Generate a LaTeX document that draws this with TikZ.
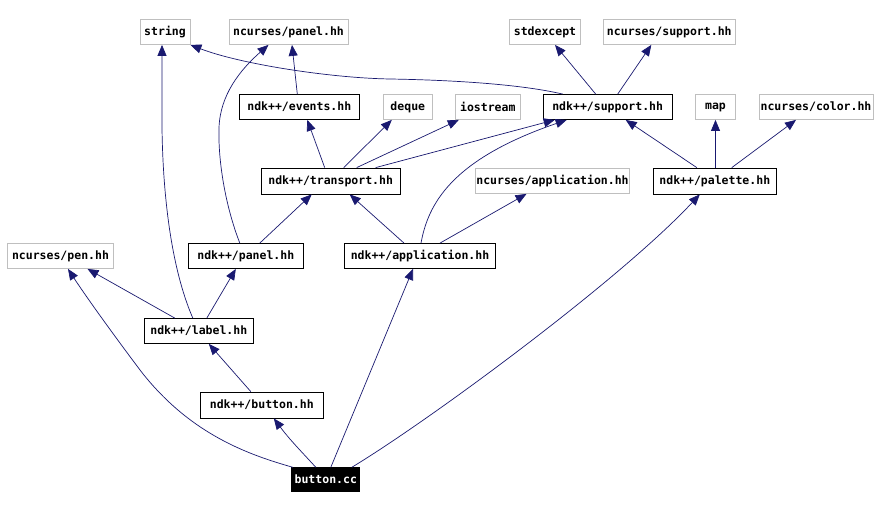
\documentclass[tikz,border=0pt]{standalone}
\usepackage{fontspec}
\setmonofont{DejaVu Sans Mono}
\usetikzlibrary{arrows.meta}
\definecolor{edgeblue}{HTML}{191970}
\definecolor{extgrey}{HTML}{BFBFBF}
\tikzset{
  box/.style={draw=black, line width=0.8pt, fill=white, minimum height=25pt, inner sep=0pt,
    font=\ttfamily\bfseries\fontsize{11.5}{12}\selectfont, text=black},
  ext/.style={box, draw=extgrey},
  cur/.style={box, fill=black, draw=black, text=white, minimum height=24pt},
  edge/.style={draw=edgeblue, line width=0.7pt, -{Triangle[length=11pt,width=9pt]}, fill=none},
}
\begin{document}
\begin{tikzpicture}[x=1pt,y=-1pt]
\path[use as bounding box, fill=white] (0,0) rectangle (880,510);
% row 1
\node[ext, minimum width=50pt]  (string)    at (165,32)   {string};
\node[ext, minimum width=119pt] (cpanel)    at (288.5,32) {ncurses/panel.hh};
\node[ext, minimum width=71pt]  (stdexcept) at (545,32)   {stdexcept};
\node[ext, minimum width=132pt] (csupport)  at (669.3,32) {ncurses/support.hh};
% row 2
\node[box, minimum width=120pt] (events)    at (299.3,107) {ndk++/events.hh};
\node[ext, minimum width=49pt]  (deque)     at (407.8,107) {deque};
\node[ext, minimum width=65pt]  (iostream)  at (487.8,107) {iostream};
\node[box, minimum width=129pt] (support)   at (607.7,107) {ndk++/support.hh};
\node[ext, minimum width=40pt]  (map)       at (715.5,107) {map};
\node[ext, minimum width=114pt] (color)     at (816,107)   {ncurses/color.hh};
% row 3
\node[box, minimum width=139pt, minimum height=26pt] (transport) at (330.7,181) {ndk++/transport.hh};
\node[ext, minimum width=154pt] (capp)      at (552.5,181) {ncurses/application.hh};
\node[box, minimum width=123pt, minimum height=26pt] (palette) at (714.8,181) {ndk++/palette.hh};
% row 4
\node[ext, minimum width=106pt] (pen)       at (60.5,256)  {ncurses/pen.hh};
\node[box, minimum width=115pt] (panel)     at (245.8,256) {ndk++/panel.hh};
\node[box, minimum width=151pt] (app)       at (420,256)   {ndk++/application.hh};
% row 5
\node[box, minimum width=109pt] (label)     at (198.8,331) {ndk++/label.hh};
% row 6
\node[box, minimum width=123pt, minimum height=26pt] (button) at (261.8,405) {ndk++/button.hh};
% row 7
\node[cur, minimum width=68pt]  (cc)        at (325.8,479.7) {button.cc};

% edges
\draw[edge] ([xshift=-2pt]events.north) -- ([xshift=3.5pt]cpanel.south);
\draw[edge] ([xshift=-45pt]support.north) .. controls (520,84) and (450,80) .. (390,79)
            .. controls (330,78) and (240,64) .. (string.south east);
\draw[edge] ([xshift=-12pt]support.north) -- ([xshift=10pt]stdexcept.south);
\draw[edge] ([xshift=10pt]support.north) -- ([xshift=-18pt]csupport.south);
\draw[edge] ([xshift=-6pt]transport.north) -- ([xshift=8pt]events.south);
\draw[edge] ([xshift=13pt]transport.north) -- ([xshift=-16pt]deque.south);
\draw[edge] ([xshift=26pt]transport.north) -- ([xshift=-29pt]iostream.south);
\draw[edge] ([xshift=45pt]transport.north) -- ([xshift=-53pt]support.south);
\draw[edge] ([xshift=-18pt]palette.north) -- ([xshift=18pt]support.south);
\draw[edge] ([xshift=0.7pt]palette.north) -- (map.south);
\draw[edge] ([xshift=17pt]palette.north) -- ([xshift=-20pt]color.south);
\draw[edge] ([xshift=14pt]panel.north) -- ([xshift=-19pt]transport.south);
\draw[edge] ([xshift=-6pt]panel.north) .. controls (225,205) and (218,160) .. (219,128)
            .. controls (220,95) and (240,70) .. ([xshift=-20pt]cpanel.south);
\draw[edge] ([xshift=-16pt]app.north) -- ([xshift=19pt]transport.south);
\draw[edge] ([xshift=20pt]app.north) -- ([xshift=-26pt]capp.south);
\draw[edge] ([xshift=1pt]app.north) .. controls (428,205) and (450,160) .. ([xshift=-41pt]support.south);
\draw[edge] ([xshift=-24pt]label.north) -- ([xshift=27pt]pen.south);
\draw[edge] ([xshift=-6pt]label.north) .. controls (172,270) and (163,200) .. (162,128)
            -- ([xshift=-3pt]string.south);
\draw[edge] ([xshift=8pt]label.north) -- ([xshift=-10pt]panel.south);
\draw[edge] ([xshift=-11pt]button.north) -- ([xshift=10pt]label.south);
\draw[edge] ([xshift=-10pt]cc.north) .. controls (300,450) and (290,440) .. ([xshift=12pt]button.south);
\draw[edge] ([xshift=-33pt]cc.north) .. controls (250,455) and (190,435) .. (140,370)
            .. controls (110,330) and (85,295) .. ([xshift=7.5pt]pen.south);
\draw[edge] ([xshift=5pt]cc.north) -- ([xshift=-7pt]app.south);
\draw[edge] ([xshift=26pt]cc.north) .. controls (430,420) and (620,280) .. ([xshift=-15pt]palette.south);
\end{tikzpicture}
\end{document}
